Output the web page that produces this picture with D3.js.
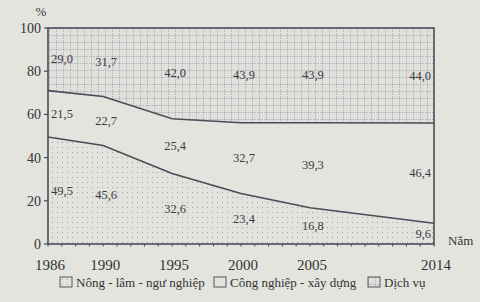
<!DOCTYPE html>
<html lang="vi">
<head>
  <meta charset="UTF-8">
  <title>Cơ cấu GDP</title>
  <script src="https://d3js.org/d3.v7.min.js"></script>
  <style>
    html, body {
      margin: 0;
      padding: 0;
      overflow: hidden;
      background: #e4e4df;
      font-family: "Liberation Serif", "DejaVu Serif", serif;
    }
    svg { display: block; }
  </style>
</head>
<body>
  <svg width="480" height="302"></svg>

  <script>
    const years = [1986, 1990, 1995, 2000, 2005, 2014];
    const nongLam = [49.5, 45.6, 32.6, 23.4, 16.8, 9.6];
    const congNghiep = [21.5, 22.7, 25.4, 32.7, 39.3, 46.4];
    const dichVu = [29.0, 31.7, 42.0, 43.9, 43.9, 44.0];
    const seriesNames = ["Nông - lâm - ngư nghiệp", "Công nghiệp - xây dựng", "Dịch vụ"];
    const yTicks = [0, 20, 40, 60, 80, 100];

    const svg = d3.select("svg");
    const margin = { left: 48, right: 46, top: 28, bottom: 58 };
    const W = 480, H = 302;

    const x = d3.scaleLinear().domain([1986, 2014]).range([margin.left, W - margin.right]);
    const y = d3.scaleLinear().domain([0, 100]).range([H - margin.bottom, margin.top]);

    const ink = "#4b4b58";

    // patterns
    const defs = svg.append("defs");
    const dots = defs.append("pattern").attr("id", "dots")
      .attr("patternUnits", "userSpaceOnUse").attr("width", 5).attr("height", 5);
    dots.append("rect").attr("width", 5).attr("height", 5).attr("fill", "#e3e3de");
    dots.append("circle").attr("cx", 2.5).attr("cy", 2.5).attr("r", 0.5).attr("fill", "#909096");

    const grid = defs.append("pattern").attr("id", "grid")
      .attr("patternUnits", "userSpaceOnUse").attr("width", 7).attr("height", 7);
    grid.append("rect").attr("width", 7).attr("height", 7).attr("fill", "#e0e0dc");
    grid.append("path").attr("d", "M0,0.5H7M0.5,0V7")
      .attr("stroke", "#a4a4aa").attr("stroke-width", 0.7).attr("stroke-dasharray", "1.5,1");

    const rows = years.map((yr, i) => ({ year: yr, nl: nongLam[i], cn: congNghiep[i], dv: dichVu[i] }));
    const stack = d3.stack().keys(["nl", "cn", "dv"])(rows);
    const fills = ["url(#dots)", "#e4e4df", "url(#grid)"];

    const area = d3.area()
      .x(d => x(d.data.year))
      .y0(d => y(d[0]))
      .y1(d => y(d[1]));

    svg.append("g").selectAll("path")
      .data(stack)
      .join("path")
      .attr("d", area)
      .attr("fill", (d, i) => fills[i]);

    // boundary lines
    const line = d3.line().x(d => x(d.data.year)).y(d => y(d[1]));
    svg.append("g").selectAll("path")
      .data(stack.slice(0, 2))
      .join("path")
      .attr("d", line)
      .attr("fill", "none")
      .attr("stroke", ink)
      .attr("stroke-width", 1.6);

    // frame
    svg.append("rect")
      .attr("x", x(1986)).attr("y", y(100))
      .attr("width", x(2014) - x(1986)).attr("height", y(0) - y(100))
      .attr("fill", "none").attr("stroke", ink).attr("stroke-width", 1.6);

    // y axis
    const yAxis = svg.append("g");
    yAxis.selectAll("line").data(yTicks).join("line")
      .attr("x1", x(1986) - 4).attr("x2", x(1986))
      .attr("y1", d => y(d)).attr("y2", d => y(d))
      .attr("stroke", ink).attr("stroke-width", 1.2);
    yAxis.selectAll("text").data(yTicks).join("text")
      .attr("x", x(1986) - 7).attr("y", d => y(d) + 5)
      .attr("text-anchor", "end")
      .attr("font-size", 14).attr("fill", "#333")
      .text(d => d);
    svg.append("text").attr("x", 41).attr("y", 16)
      .attr("text-anchor", "middle").attr("font-size", 13).attr("fill", "#333").text("%");

    // x axis minor ticks (each year) and labels
    const xAxis = svg.append("g");
    xAxis.selectAll("line").data(d3.range(1986, 2015)).join("line")
      .attr("x1", d => x(d)).attr("x2", d => x(d))
      .attr("y1", y(0)).attr("y2", y(0) + 2.5)
      .attr("stroke", ink).attr("stroke-width", 1);
    xAxis.selectAll("text").data(years).join("text")
      .attr("x", d => x(d) + 2).attr("y", y(0) + 26)
      .attr("text-anchor", "middle")
      .attr("font-size", 15).attr("fill", "#333")
      .text(d => d);
    svg.append("text").attr("x", 448).attr("y", 245)
      .attr("font-size", 13).attr("fill", "#333").text("Năm");

    // value labels at mid of each layer
    const fmt = v => v.toFixed(1).replace(".", ",");
    const labels = [];
    stack.forEach(layer => {
      layer.forEach((d, i) => {
        labels.push({ i, v: d[1] - d[0], mid: (d[0] + d[1]) / 2, year: d.data.year });
      });
    });
    svg.append("g").selectAll("text").data(labels).join("text")
      .attr("x", d => d.i === 0 ? x(d.year) + 3 : d.i === years.length - 1 ? x(d.year) - 3 : x(d.year) + 3)
      .attr("y", d => y(d.mid) + 4)
      .attr("text-anchor", d => d.i === 0 ? "start" : d.i === years.length - 1 ? "end" : "middle")
      .attr("font-size", 12.5).attr("fill", "#3a3a40")
      .text(d => fmt(d.v));

    // legend
    const legendX = [60, 214, 368];
    const lg = svg.append("g").selectAll("g").data(seriesNames).join("g")
      .attr("transform", (d, i) => `translate(${legendX[i]},277)`);
    lg.append("rect").attr("width", 12).attr("height", 10)
      .attr("fill", (d, i) => fills[i]).attr("stroke", "#55555f").attr("stroke-width", 1);
    lg.append("text").attr("x", 16).attr("y", 9.5)
      .attr("font-size", 13).attr("fill", "#333")
      .text(d => d);
  </script>
</body>
</html>
